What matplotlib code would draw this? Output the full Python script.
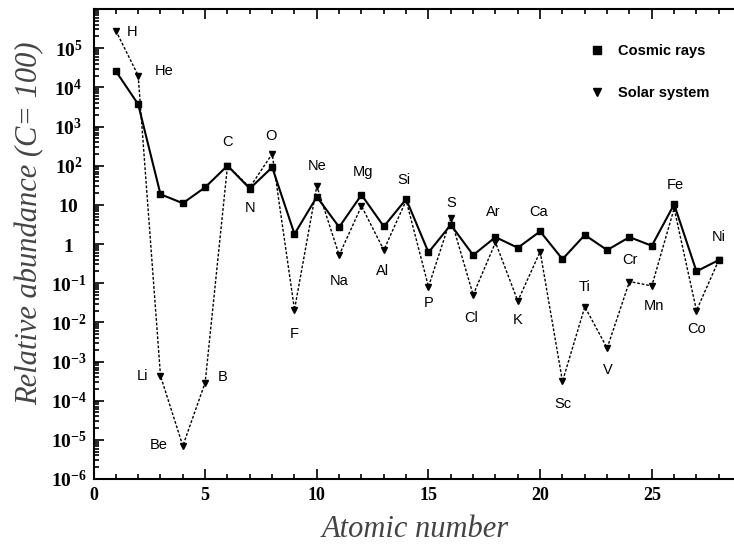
import matplotlib
matplotlib.use('Agg')
import matplotlib.pyplot as plt
from matplotlib.ticker import FixedLocator, MultipleLocator, LogLocator, NullFormatter

plt.rcParams['mathtext.fontset'] = 'custom'
plt.rcParams['mathtext.rm'] = 'Liberation Serif'
plt.rcParams['mathtext.bf'] = 'Liberation Serif:bold'

# ---- data ----
Z = list(range(1, 29))
elements = ['H', 'He', 'Li', 'Be', 'B', 'C', 'N', 'O', 'F', 'Ne', 'Na', 'Mg', 'Al', 'Si',
            'P', 'S', 'Cl', 'Ar', 'K', 'Ca', 'Sc', 'Ti', 'V', 'Cr', 'Mn', 'Fe', 'Co', 'Ni']

cosmic = [2.6e4, 3.7e3, 18.6, 11, 28, 100, 26, 91, 1.8, 16, 2.7, 18, 2.8, 14,
          0.61, 3.1, 0.52, 1.5, 0.8, 2.1, 0.41, 1.7, 0.7, 1.5, 0.9, 10.3, 0.2, 0.39]

solar = [2.8e5, 2.0e4, 4.3e-4, 7e-6, 2.9e-4, 100, 28, 200, 0.021, 30, 0.52, 9.3, 0.7, 13,
         0.081, 4.5, 0.05, 1.1, 0.035, 0.64, 3.1e-4, 0.025, 2.2e-3, 0.11, 0.085, 8.1, 0.02, 0.39]

ytick_vals = [1e-6, 1e-5, 1e-4, 1e-3, 1e-2, 1e-1, 1, 10, 1e2, 1e3, 1e4, 1e5]
ytick_labels = [r'$\mathbf{10^{-6}}$', r'$\mathbf{10^{-5}}$', r'$\mathbf{10^{-4}}$',
                r'$\mathbf{10^{-3}}$', r'$\mathbf{10^{-2}}$', r'$\mathbf{10^{-1}}$',
                r'$\mathbf{1}$', r'$\mathbf{10}$', r'$\mathbf{10^{2}}$',
                r'$\mathbf{10^{3}}$', r'$\mathbf{10^{4}}$', r'$\mathbf{10^{5}}$']

# label placement: which series the name sits next to and the pixel offset
label_pos = {
    'H': ('s', 16, -1), 'He': ('s', 26, 5), 'Li': ('s', -18, 0), 'Be': ('s', -24, 1),
    'B': ('s', 17, 6), 'C': ('c', 0, 24), 'N': ('c', 0, -19), 'O': ('s', -1, 18),
    'F': ('s', 0, -24), 'Ne': ('s', 0, 20), 'Na': ('s', 0, -26), 'Mg': ('c', 2, 23),
    'Al': ('s', -1, -21), 'Si': ('c', -2, 19), 'P': ('s', 0, -16), 'S': ('s', 0, 15),
    'Cl': ('s', -2, -23), 'Ar': ('c', -2, 25), 'K': ('s', 0, -19), 'Ca': ('c', -2, 19),
    'Sc': ('s', 0, -23), 'Ti': ('s', 0, 20), 'V': ('s', 1, -22), 'Cr': ('s', 0, 22),
    'Mn': ('s', 2, -20), 'Fe': ('c', 1, 19), 'Co': ('s', 0, -18), 'Ni': ('c', 0, 23),
}

fig = plt.figure(figsize=(7.34, 5.45), dpi=100)
ax = fig.add_axes([93.5 / 734, 66 / 545, 1 - 93.5 / 734, 470 / 545])

ax.plot(Z, solar, color='black', lw=1.0, ls=(0, (2, 1.3)), marker='v', ms=4,
        label='Solar system')
ax.plot(Z, cosmic, color='black', lw=1.5, ls='-', marker='s', ms=4.5,
        label='Cosmic rays')

for i, name in enumerate(elements):
    which, dx, dy = label_pos[name]
    yv = cosmic[i] if which == 'c' else solar[i]
    ax.annotate(name, xy=(Z[i], yv), xytext=(dx, dy), textcoords='offset pixels',
                ha='center', va='center', fontsize=10.5, family='Liberation Sans')

ax.set_yscale('log')
ax.set_ylim(1e-6, 1e6)
ax.set_xlim(0, 28.68)

ax.xaxis.set_major_locator(FixedLocator([0, 5, 10, 15, 20, 25]))
ax.xaxis.set_minor_locator(MultipleLocator(1))
ax.yaxis.set_major_locator(FixedLocator(ytick_vals))
ax.set_yticklabels(ytick_labels)
ax.yaxis.set_minor_locator(LogLocator(base=10, subs=range(2, 10), numticks=30))
ax.yaxis.set_minor_formatter(NullFormatter())

for lab in ax.get_xticklabels():
    lab.set_fontfamily('Liberation Serif')
    lab.set_fontweight('bold')
for lab in ax.get_yticklabels():
    lab.set_horizontalalignment('center')

ax.tick_params(axis='both', which='both', direction='in', top=True, right=False, width=1.2)
ax.tick_params(axis='both', which='major', length=7)
ax.tick_params(axis='both', which='minor', length=3.5)
ax.tick_params(axis='x', labelsize=13, pad=6)
ax.tick_params(axis='y', labelsize=14, pad=18)

ax.spines['right'].set_visible(False)
for sp in ['left', 'bottom', 'top']:
    ax.spines[sp].set_linewidth(1.5)

ax.set_xlabel('Atomic number', fontsize=22, style='italic', family='Liberation Serif',
              color='#444444', va='center')
ax.set_ylabel('Relative abundance (C= 100)', fontsize=22, style='italic',
              family='Liberation Serif', color='#444444', va='center')
ax.xaxis.set_label_coords(0.503, -0.108)
ax.yaxis.set_label_coords(-0.099, 0.545)

leg_handles = [plt.Line2D([], [], color='black', marker='s', ls='none', ms=6),
               plt.Line2D([], [], color='black', marker='v', ls='none', ms=6)]
ax.legend(leg_handles, ['Cosmic rays', 'Solar system'], loc='upper left',
          bbox_to_anchor=(0.764, 0.94), frameon=False, handlelength=1,
          handletextpad=0.9, labelspacing=1.9, borderpad=0,
          prop={'family': 'Liberation Sans', 'weight': 'bold', 'size': 10.5})

fig.savefig('out.png', dpi=100)
